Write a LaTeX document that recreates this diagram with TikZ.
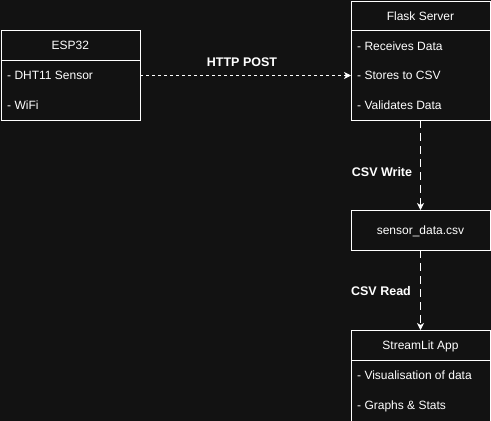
\documentclass[tikz,border=0pt]{standalone}
\usepackage{fontspec}
\setmainfont{Liberation Sans}
\usetikzlibrary{arrows.meta}
\definecolor{bgc}{HTML}{121212}
\tikzset{
  boxline/.style={draw=white, line width=1pt},
  hdr/.style={text=white, font=\fontsize{12}{14}\selectfont, anchor=center, inner sep=0pt},
  row/.style={text=white, font=\fontsize{12}{14}\selectfont, anchor=west, inner sep=0pt},
  lbl/.style={text=white, font=\fontsize{12.5}{15}\selectfont\bfseries, anchor=center, inner sep=0pt},
  flowfine/.style={draw=white, line width=1pt, dash pattern=on 3pt off 3pt, -{Stealth[length=7pt,width=7pt,inset=2pt]}},
  flowlong/.style={draw=white, line width=1pt, dash pattern=on 8pt off 5pt, -{Stealth[length=7pt,width=7pt,inset=2pt]}},
}
\begin{document}
\begin{tikzpicture}[x=1pt,y=-1pt]
\fill[bgc] (0,0) rectangle (491,421);
\useasboundingbox (0,0) rectangle (491,421);
\clip (0,0) rectangle (491,421);
% ESP32
\node[boxline, minimum width=139.5pt, minimum height=90pt, anchor=north west, inner sep=0pt] (esp) at (0.5,30) {};
\draw[boxline] (0.5,60) -- (140,60);
\node[hdr] (esptitle) at (70.25,45) {ESP32};
\node[row] (esp1) at (7,75) {- DHT11 Sensor};
\node[row] (esp2) at (7,105) {- WiFi};
% Flask
\node[boxline, minimum width=139pt, minimum height=119pt, anchor=north west, inner sep=0pt] (flask) at (351,1) {};
\draw[boxline] (351,30) -- (490,30);
\node[hdr] (flasktitle) at (420.5,16) {Flask Server};
\node[row] (fl1) at (357,46) {- Receives Data};
\node[row] (fl2) at (357,75.5) {- Stores to CSV};
\node[row] (fl3) at (357,105) {- Validates Data};
% CSV
\node[boxline, minimum width=139pt, minimum height=40pt, anchor=north west, inner sep=0pt] (csv) at (351,210) {};
\node[hdr] (csvtitle) at (420.5,231) {sensor\_data.csv};
% StreamLit
\node[boxline, minimum width=139pt, minimum height=100pt, anchor=north west, inner sep=0pt] (st) at (351,330) {};
\draw[boxline] (351,360) -- (490,360);
\node[hdr] (sttitle) at (420.5,346) {StreamLit App};
\node[row] (st1) at (357,375.5) {- Visualisation of data};
\node[row] (st2) at (357,406) {- Graphs \& Stats};
% connectors
\coordinate (espout) at (140,75.5);
\coordinate (flaskin) at (351,75.5);
\draw[flowfine] (espout) -- (flaskin);
\node[lbl] (httplbl) at (242,62) {HTTP POST};
\coordinate (flaskout) at (420.5,120);
\coordinate (csvin) at (420.5,210);
\draw[flowlong] (flaskout) -- (csvin);
\node[lbl] (wlbl) at (382,172) {CSV Write};
\coordinate (csvout) at (420.5,250);
\coordinate (stin) at (420.5,330);
\draw[flowlong] (csvout) -- (stin);
\node[lbl] (rlbl) at (381,291) {CSV Read};
\end{tikzpicture}
\end{document}
